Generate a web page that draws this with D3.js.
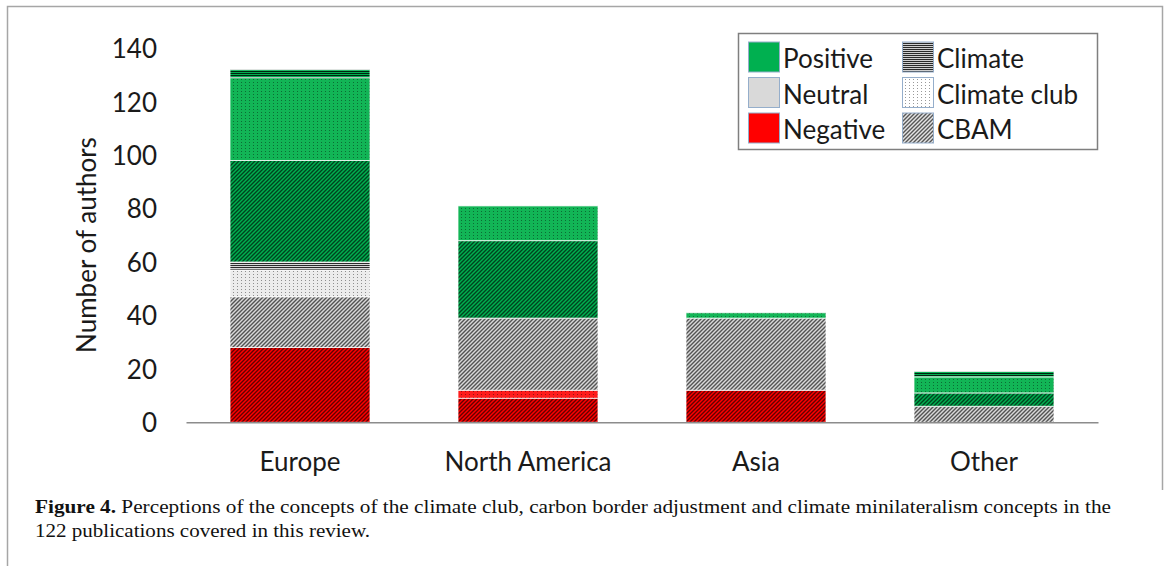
<!DOCTYPE html>
<html><head><meta charset="utf-8">
<script src="https://cdn.jsdelivr.net/npm/d3@7"></script>
<style>html,body{margin:0;padding:0;background:#fff;} svg{display:block}</style>
</head><body>
<svg id="chart" width="1167" height="566"></svg>
<script>
// Regions (x categories)
const regions = ["Europe", "North America", "Asia", "Other"];

// Number of authors per region, split by perception and by concept
const negativeCBAM    = [28, 9, 12, 0];
const negativeClub    = [0, 3, 0, 0];
const negativeClimate = [0, 0, 0, 0];
const neutralCBAM     = [19, 27, 27, 6];
const neutralClub     = [10, 0, 0, 0];
const neutralClimate  = [3, 0, 0, 0];
const positiveCBAM    = [38, 29, 0, 5];
const positiveClub    = [31, 13, 2, 6];
const positiveClimate = [3, 0, 0, 2];

const yTicks = [0, 20, 40, 60, 80, 100, 120, 140];
const legendSentiments = ["Positive", "Neutral", "Negative"];
const legendConcepts = ["Climate", "Climate club", "CBAM"];

// Stack order, bottom to top
const series = [
  { sentiment: "Negative", concept: "CBAM", values: negativeCBAM },
  { sentiment: "Negative", concept: "Climate club", values: negativeClub },
  { sentiment: "Negative", concept: "Climate", values: negativeClimate },
  { sentiment: "Neutral", concept: "CBAM", values: neutralCBAM },
  { sentiment: "Neutral", concept: "Climate club", values: neutralClub },
  { sentiment: "Neutral", concept: "Climate", values: neutralClimate },
  { sentiment: "Positive", concept: "CBAM", values: positiveCBAM },
  { sentiment: "Positive", concept: "Climate club", values: positiveClub },
  { sentiment: "Positive", concept: "Climate", values: positiveClimate }
];

const sentimentColor = { Positive: "#00b050", Neutral: "#d9d9d9", Negative: "#ff0000" };
const clubBase = { Positive: "#12b556", Neutral: "#ececec", Negative: "#ff1c1c" };

const FONT = "Lato, 'Open Sans', sans-serif";
const svg = d3.select("#chart");
const defs = svg.append("defs");

const keyOf = (s, c) => (s + "-" + c).replace(/\s+/g, "");

// Pattern fills: diagonal hatch = CBAM, dots = Climate club, horizontal lines = Climate
function addPattern(id, concept, base) {
  let p;
  if (concept === "CBAM") {
    p = defs.append("pattern").attr("id", id).attr("patternUnits", "userSpaceOnUse")
      .attr("width", 4).attr("height", 4);
    p.append("rect").attr("width", 4).attr("height", 4).attr("fill", base);
    p.append("path").attr("d", "M0,4 L4,0 M-1,1 L1,-1 M3,5 L5,3")
      .attr("stroke", "#000").attr("stroke-opacity", 0.62).attr("stroke-width", 1.4);
  } else if (concept === "Climate club") {
    p = defs.append("pattern").attr("id", id).attr("patternUnits", "userSpaceOnUse")
      .attr("width", 4).attr("height", 3);
    p.append("rect").attr("width", 4).attr("height", 3).attr("fill", base);
    p.append("rect").attr("x", 1).attr("y", 1).attr("width", 1).attr("height", 1)
      .attr("fill", "#000").attr("fill-opacity", 0.4);
  } else {
    p = defs.append("pattern").attr("id", id).attr("patternUnits", "userSpaceOnUse")
      .attr("width", 4).attr("height", 2);
    p.append("rect").attr("width", 4).attr("height", 2).attr("fill", base);
    p.append("rect").attr("y", 1).attr("width", 4).attr("height", 1)
      .attr("fill", "#000").attr("fill-opacity", 0.8);
  }
}
series.forEach(s => {
  const base = s.concept === "Climate club" ? clubBase[s.sentiment] : sentimentColor[s.sentiment];
  addPattern("p-" + keyOf(s.sentiment, s.concept), s.concept, base);
});
// Legend swatches for the concepts
addPattern("lg-Climate", "Climate", "#cfcfcf");
addPattern("lg-Climateclub", "Climate club", "#ffffff");
addPattern("lg-CBAM", "CBAM", "#e4e4e4");

// Figure frame
svg.append("path").attr("d", "M7.5,566 V6.5 H1162.5 V490")
  .attr("fill", "none").attr("stroke", "#a6a6a6").attr("stroke-width", 1.5);

// Scales
const x = d3.scaleBand().domain(regions).range([186, 1098]).paddingInner(0.386).paddingOuter(0.193);
const y = d3.scaleLinear().domain([0, 140]).range([422.3, 48.3]);

// Stack
const keys = series.map(s => keyOf(s.sentiment, s.concept));
const rows = regions.map((r, i) => {
  const row = { region: r };
  series.forEach(s => row[keyOf(s.sentiment, s.concept)] = s.values[i]);
  return row;
});
const stacked = d3.stack().keys(keys)(rows);

const layers = svg.append("g").selectAll("g").data(stacked).join("g")
  .attr("fill", d => "url(#p-" + d.key + ")");
layers.selectAll("rect").data(d => d.filter(v => v[1] - v[0] > 0)).join("rect")
  .attr("x", d => x(d.data.region))
  .attr("width", x.bandwidth())
  .attr("y", d => y(d[1]))
  .attr("height", d => y(d[0]) - y(d[1]))
  .attr("stroke", "#ffffff").attr("stroke-opacity", 0.75).attr("stroke-width", 1);

// Y axis (labels only)
const yAxis = svg.append("g").attr("transform", "translate(157,0)")
  .call(d3.axisLeft(y).tickValues(yTicks).tickSize(0).tickPadding(0));
yAxis.select(".domain").remove();
yAxis.selectAll("text").attr("font-family", FONT).attr("font-size", 26).attr("fill", "#1a1a1a")
  .attr("dy", "0.36em");

// X axis
const xAxis = svg.append("g").attr("transform", "translate(0,422.3)")
  .call(d3.axisBottom(x).tickSize(0).tickPadding(0));
xAxis.select(".domain").attr("stroke", "#8c8c8c").attr("stroke-width", 1.6);
xAxis.selectAll("text").attr("font-family", FONT).attr("font-size", 26).attr("fill", "#1a1a1a")
  .attr("y", 49).attr("dy", 0);

// Y axis title
svg.append("text").attr("transform", "translate(96,245) rotate(-90)")
  .attr("text-anchor", "middle").attr("font-family", FONT).attr("font-size", 26)
  .attr("fill", "#1a1a1a").text("Number of authors");

// Legend
const lg = svg.append("g");
lg.append("rect").attr("x", 738.5).attr("y", 33.5).attr("width", 359).attr("height", 116)
  .attr("fill", "#fff").attr("stroke", "#7f7f7f").attr("stroke-width", 1.5);
const rowY = [42, 77.5, 113];
legendSentiments.forEach((s, i) => {
  lg.append("rect").attr("x", 748.5).attr("y", rowY[i]).attr("width", 31).attr("height", 30)
    .attr("fill", sentimentColor[s]).attr("stroke", "#95aecb").attr("stroke-width", 1);
  lg.append("text").attr("x", 783).attr("y", rowY[i] + 26).attr("font-family", FONT)
    .attr("font-size", 26).attr("fill", "#1a1a1a").text(s);
});
legendConcepts.forEach((c, i) => {
  lg.append("rect").attr("x", 902.5).attr("y", rowY[i]).attr("width", 31).attr("height", 30)
    .attr("fill", "url(#lg-" + c.replace(/\s+/g, "") + ")").attr("stroke", "#95aecb").attr("stroke-width", 1);
  lg.append("text").attr("x", 937).attr("y", rowY[i] + 26).attr("font-family", FONT)
    .attr("font-size", 26).attr("fill", "#1a1a1a").text(c);
});

// Caption
const cap = svg.append("g").attr("font-family", "'Liberation Serif', 'Times New Roman', serif")
  .attr("font-size", 18).attr("fill", "#111");
const l1 = cap.append("text").attr("x", 35).attr("y", 513)
  .attr("textLength", 1076).attr("lengthAdjust", "spacingAndGlyphs");
l1.append("tspan").attr("font-weight", "bold").text("Figure 4.");
l1.append("tspan").text(" Perceptions of the concepts of the climate club, carbon border adjustment and climate minilateralism concepts in the");
cap.append("text").attr("x", 35).attr("y", 537)
  .attr("textLength", 335).attr("lengthAdjust", "spacingAndGlyphs")
  .text("122 publications covered in this review.");
</script>
</body></html>
